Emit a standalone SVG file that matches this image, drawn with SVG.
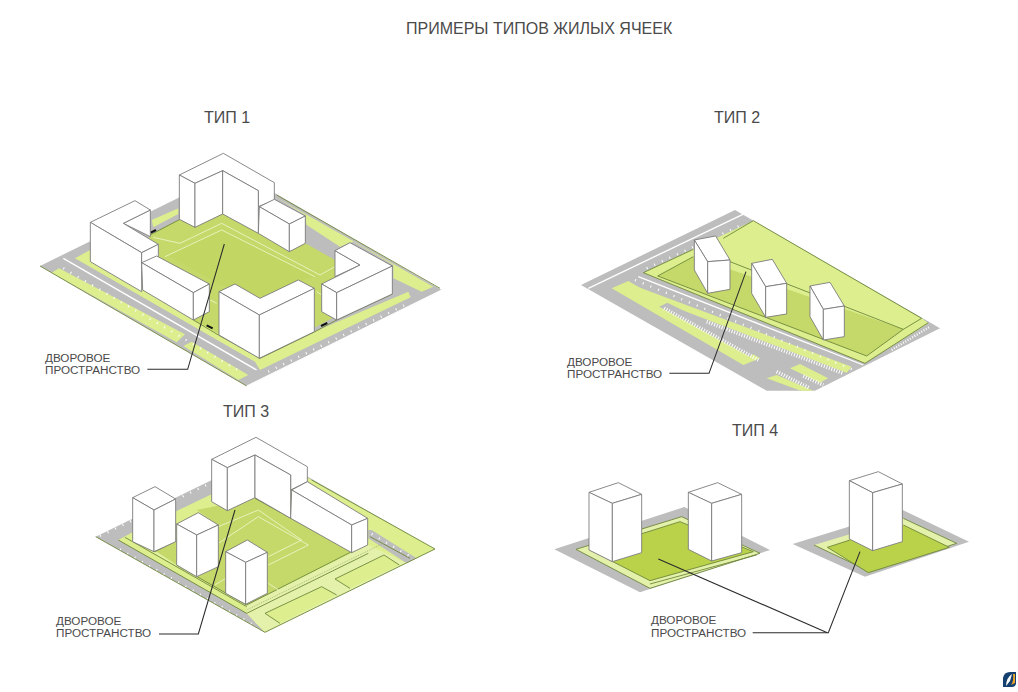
<svg xmlns="http://www.w3.org/2000/svg" width="1018" height="692" viewBox="0 0 1018 692">
<style>
text{font-family:"Liberation Sans",Arial,sans-serif;fill:#4a4a4a}
.t{font-size:16px}
.h{font-size:16px}
.c{font-size:11.7px}
.b polygon{fill:#fff;stroke:#777;stroke-width:2.6;stroke-linejoin:round}
.g{fill:#bdbdbd}
.l{fill:#dcee8e}
.p{fill:#e4f1aa}
.y{fill:#c5d96a}
.o{fill:#b9d24a}
.d{fill:none;stroke:#6b8438;stroke-width:2.6}
.w{fill:none;stroke:#fff;stroke-width:4}
.wl{fill:none;stroke:#eef4c8;stroke-width:2.6}
.dash{fill:none;stroke:#fff;stroke-width:7;stroke-dasharray:3 22}
.hatch{fill:none;stroke:#fff;stroke-width:11;stroke-dasharray:3 5}
.ld{fill:none;stroke:#2b2b2b;stroke-width:3.2}
.ar{fill:none;stroke:#111;stroke-width:6}
</style>
<rect width="1018" height="692" fill="#fff"/>
<text class="h" x="406" y="34">ПРИМЕРЫ ТИПОВ ЖИЛЫХ ЯЧЕЕК</text>
<text class="t" x="204" y="123">ТИП 1</text>
<text class="t" x="714" y="123">ТИП 2</text>
<text class="t" x="223" y="417">ТИП 3</text>
<text class="t" x="732" y="436">ТИП 4</text>

<g id="type1-site" transform="translate(30 140) scale(.33333)">
<polygon class="g" points="30,378 615,90 1235,450 650,738"/>
<polygon class="l" points="65,398 87,385 465,583 440,607"/>
<polygon class="l" points="460,618 485,605 655,705 625,720"/>
<polyline class="w" points="100,355 680,690"/>
<polyline class="dash" points="100,385 640,700"/>
<polyline class="dash" points="715,695 1125,495"/>
<polygon class="l" points="135,355 180,330 700,640 1135,455 1142,472 690,690 675,665"/>
<polygon class="l" points="735,170 1210,440 1175,455 1090,415 1090,375 970,305 930,320 830,255 825,225"/>
<polygon class="l" points="365,240 445,205 445,222 370,262"/>
<polygon class="y" points="360,285 578,170 915,360 915,530 690,650 490,540 340,340"/>
<polyline class="d" points="360,285 450,238"/>
<polyline class="d" points="490,540 565,585"/>
<polyline class="d" points="30,378 650,738"/>
<polyline class="d" points="855,575 920,540"/>
<polyline class="d" points="565,585 690,655 855,575"/>
<polyline class="d" points="920,540 1087,462"/>
<polyline class="d" points="740,165 1230,445"/>
<polyline fill="none" stroke="#fff" stroke-width="3" points="650,738 1235,450"/>
<polygon class="o" points="410,345 575,270 860,405 700,470 570,435" opacity=".2"/>
<polyline class="wl" points="370,292 450,310 575,250 870,405 915,380"/>
<polyline class="wl" points="405,350 575,270 855,410"/>
<polyline class="wl" points="540,480 560,490"/>
<polyline class="wl" points="860,455 875,465"/>
<polyline class="ar" points="362,278 378,270"/>
<polyline class="ar" points="530,556 548,565"/>
<polyline class="ar" points="873,558 892,549"/>
</g>
<g id="type1-buildings" class="b" transform="translate(30 140) scale(.33333)">
<polygon points="448,105 580,40 733,128 733,180 685,200 685,152 578,92 495,130"/>
<polygon points="448,105 495,130 495,262 448,238"/>
<polygon points="495,130 578,92 578,222 495,262"/>
<polygon points="578,92 685,152 685,280 578,222"/>
<polygon points="688,200 733,178 826,228 778,252"/>
<polygon points="688,200 778,252 778,335 685,280"/>
<polygon points="778,252 826,228 826,310 778,335"/>
<polygon points="361,210 361,290 280,250"/>
<polygon points="181,247 315,182 361,210 280,250 385,313 335,338"/>
<polygon points="181,247 335,338 335,455 181,365"/>
<polygon points="335,338 385,313 385,350 335,375"/>
<polygon points="335,368 380,348 538,432 490,458"/>
<polygon points="335,368 490,458 490,540 338,450"/>
<polygon points="490,458 538,432 538,515 490,540"/>
<polygon points="567,455 615,432 690,475 805,420 853,445 688,525"/>
<polygon points="567,455 688,525 688,655 567,585"/>
<polygon points="688,525 853,445 853,575 688,655"/>
<polygon points="915,332 990,375 915,410"/>
<polygon points="915,332 960,308 1087,378 920,458 875,432 990,375"/>
<polygon points="875,432 920,458 920,540 875,515"/>
<polygon points="920,458 1087,378 1087,462 920,540"/>
</g>
<g id="type1-callout">
<polyline class="ld" transform="translate(30 140) scale(.33333)" points="583,312 473,688 352,688"/>
<text class="c" x="45" y="362">ДВОРОВОЕ</text>
<text class="c" x="45" y="374">ПРОСТРАНСТВО</text>
</g>

<g id="type2-site" transform="translate(560 200) scale(.33333)">
<polygon class="g" points="63,255 525,30 1140,385 765,572 620,572"/>
<polyline class="w" points="85,265 555,40"/>
<polyline class="dash" points="260,205 545,75"/>
<polygon class="l" points="250,218 580,62 1085,355 1105,370 915,490"/>
<polygon class="y" points="293,228 400,170 1030,388 920,468"/>
<polyline class="d" points="293,228 400,170"/>
<polyline class="d" points="293,228 920,468 1030,388 510,185"/>
<polyline class="d" points="490,115 580,62 1085,355 1030,388"/>
<polyline class="d" points="250,218 915,490 1105,368"/>
<polyline class="d" points="250,218 400,148"/>
<polyline class="w" points="235,230 910,495"/>
<polygon class="l" points="210,252 875,500 860,518 300,305 290,300"/>
<polyline class="dash" points="225,240 880,510"/>
<polygon class="l" points="155,265 205,243 600,475 550,495"/>
<polygon class="g" points="298,320 322,308 600,445 570,470"/>
<polyline class="hatch" points="312,325 595,480"/>
<polyline class="hatch" points="440,365 850,520"/>
<polygon class="l" points="690,505 720,492 805,535 780,548"/>
<polygon class="l" points="620,535 650,525 760,572 722,572"/>
<polyline class="hatch" points="650,515 750,565"/>
<polyline class="hatch" points="730,528 790,555"/>
<polyline class="hatch" style="stroke-width:7" points="995,450 1110,380"/>
</g>
<g id="type2-buildings" class="b" transform="translate(560 200) scale(.33333)">
<polygon points="403,120 467,108 510,180 443,185"/>
<polygon points="403,120 443,185 443,280 403,210"/>
<polygon points="443,185 510,180 510,268 443,280"/>
<polygon points="575,190 637,178 680,250 617,260"/>
<polygon points="575,190 617,260 617,352 575,280"/>
<polygon points="617,260 680,250 680,342 617,352"/>
<polygon points="750,258 810,247 853,318 790,328"/>
<polygon points="750,258 790,328 790,420 750,350"/>
<polygon points="790,328 853,318 853,410 790,420"/>
</g>
<g id="type2-callout">
<polyline class="ld" transform="translate(560 200) scale(.33333)" points="558,215 447,520 328,520"/>
<text class="c" x="567" y="366">ДВОРОВОЕ</text>
<text class="c" x="567" y="378">ПРОСТРАНСТВО</text>
</g>

<g id="type3-site" transform="translate(50 430) scale(.33333)">
<polygon class="g" points="137,320 650,70 1155,357 645,607"/>
<polyline class="dash" points="150,318 480,160"/>
<polyline class="dash" points="210,358 620,590"/>
<polygon class="l" points="205,330 250,305 480,195 700,100 785,150 1155,357 645,607 590,550"/>
<polygon class="g" points="955,300 965,300 1100,385 1070,400 955,325"/>
<polyline class="d" points="960,320 1080,385"/>
<polyline class="dash" points="965,312 1085,382"/>
<polygon class="p" points="590,525 955,345 1070,400 1100,385 1155,357 645,607 590,550"/>
<polygon class="p" points="315,370 380,335 590,525 380,405"/>
<polygon class="y" points="440,240 615,205 905,365 590,525 440,440 505,410 505,285"/>
<polygon class="y" points="315,362 380,330 380,405"/>
<polyline class="d" points="137,320 645,607 1155,357 785,150"/>
<polyline class="d" points="205,330 590,550 955,370"/>
<polyline class="d" points="225,322 590,530"/>
<polyline class="d" points="380,405 590,525 905,365"/>
<polyline class="d" points="315,365 380,332"/>
<polyline class="d" points="615,205 905,365"/>
<polygon class="l" points="645,550 815,470 860,495 690,580"/>
<polygon class="l" points="855,447 1002,375 1048,405 900,475"/>
<polyline class="d" points="690,580 645,550 815,470 860,495"/>
<polyline class="d" points="900,475 855,447 1002,375 1048,405"/>
<polyline fill="none" stroke="#a9b97a" stroke-width="3" stroke-dasharray="3 3" points="590,540 1000,340"/>
<polyline class="wl" points="505,290 625,240 755,330 655,380"/>
<polyline class="wl" points="505,340 625,260 775,345 655,405"/>
<polyline class="wl" points="495,465 527,445"/>
<polyline class="wl" points="655,460 685,480"/>
</g>
<g id="type3-buildings" class="b" transform="translate(50 430) scale(.33333)">
<polygon points="485,88 618,22 772,110 772,155 722,180 722,135 615,75 532,113"/>
<polygon points="485,88 532,113 532,242 485,215"/>
<polygon points="532,113 615,75 615,203 532,242"/>
<polygon points="615,75 722,135 722,265 615,203"/>
<polygon points="725,180 772,155 953,265 905,285"/>
<polygon points="725,180 905,285 905,368 722,265"/>
<polygon points="905,285 953,265 953,345 905,368"/>
<polygon points="248,203 315,170 377,207 312,240"/>
<polygon points="248,203 312,240 312,365 248,335"/>
<polygon points="312,240 377,207 377,335 312,365"/>
<polygon points="380,282 445,248 505,285 440,315"/>
<polygon points="380,282 440,315 440,440 380,405"/>
<polygon points="440,315 505,285 505,410 440,440"/>
<polygon points="527,365 592,330 652,367 587,397"/>
<polygon points="527,365 587,397 587,523 527,490"/>
<polygon points="587,397 652,367 652,490 587,523"/>
</g>
<g id="type3-callout">
<polyline class="ld" transform="translate(50 430) scale(.33333)" points="555,240 445,612 327,612"/>
<text class="c" x="56" y="625">ДВОРОВОЕ</text>
<text class="c" x="56" y="637">ПРОСТРАНСТВО</text>
</g>

<g id="type4-left" transform="translate(540 460) scale(.33333)">
<polygon class="g" points="43,268 433,141 690,270 300,397"/>
<polygon class="p" points="108,268 425,170 660,280 330,385"/>
<polyline class="d" points="108,268 330,385 660,280 425,170 108,268"/>
<polyline class="d" points="330,372 650,285"/>
<polygon class="o" points="150,270 420,185 640,275 330,362"/>
<polyline class="d" points="150,270 330,362 640,275 420,185 150,270"/>
</g>
<g id="type4-left-buildings" class="b" transform="translate(540 460) scale(.33333)">
<polygon points="147,97 235,68 305,103 217,130"/>
<polygon points="147,97 217,130 217,305 147,270"/>
<polygon points="217,130 305,103 305,278 217,305"/>
<polygon points="445,97 533,68 605,103 515,130"/>
<polygon points="445,97 515,130 515,303 445,268"/>
<polygon points="515,130 605,103 605,278 515,303"/>
</g>
<g id="type4-right" transform="translate(540 460) scale(.33333)">
<polygon class="g" points="758,252 1088,150 1287,245 975,350"/>
<polygon class="p" points="822,255 1090,175 1250,250 990,335"/>
<polyline class="d" points="822,255 990,335 1250,250 1090,175"/>
<polygon class="o" points="862,262 930,240 1090,195 1228,262 985,338"/>
<polyline class="d" points="930,240 862,262 985,338 1228,262 1090,195"/>
</g>
<g id="type4-right-building" class="b" transform="translate(540 460) scale(.33333)">
<polygon points="928,62 1015,35 1087,72 998,98"/>
<polygon points="928,62 998,98 998,272 928,237"/>
<polygon points="998,98 1087,72 1087,245 998,272"/>
</g>
<g id="type4-callout">
<g transform="translate(540 460) scale(.33333)">
<polyline class="ld" points="355,297 862,518"/>
<polyline class="ld" points="960,275 865,518 638,518"/>
</g>
<text class="c" x="651" y="624">ДВОРОВОЕ</text>
<text class="c" x="651" y="637">ПРОСТРАНСТВО</text>
</g>

<g id="logo">
<path d="M1003 687 V678 Q1004 672 1010 672 H1016 V684 Q1015 687 1012 687 Z" fill="#14406f"/>
<path d="M1006 686 Q1006 678 1012 674 L1010 681 Z" fill="#fff"/>
<path d="M1011 685 Q1014 681 1013 674 L1015 674 V683 Z" fill="#eba52a"/>
</g>
</svg>
